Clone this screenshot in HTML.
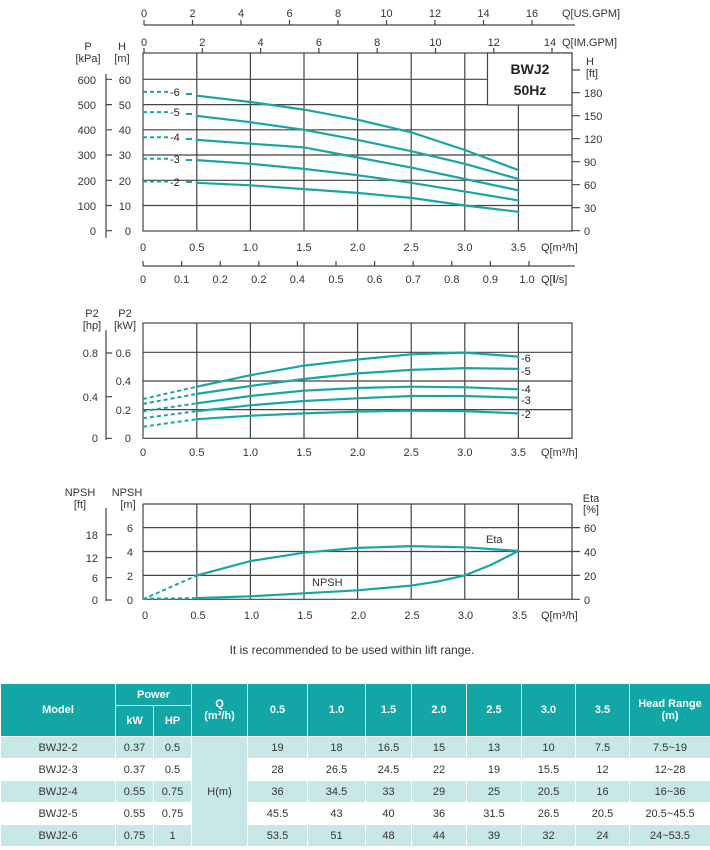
<!DOCTYPE html>
<html><head><meta charset="utf-8"><style>
body{margin:0;background:#fff;width:710px;height:850px;overflow:hidden;font-family:"Liberation Sans",sans-serif;}
svg{position:absolute;left:0;top:0}
table{position:absolute;left:0;top:683px;border-collapse:collapse;width:710px;font-size:11px;color:#333;table-layout:fixed}
td,th{border:1px solid #fff;text-align:center;padding:0;height:21px}
th{background:#12a6a7;color:#fff;font-weight:bold;font-size:11px}
tr.a td{background:#c8e8e8}
td.q{background:#c8e8e8}
</style></head><body>
<svg width="710" height="680" font-family="Liberation Sans, sans-serif" font-size="11" fill="#333">
<g stroke="#444" stroke-width="1.2" fill="none">
<rect x="143" y="53" width="429" height="178"/>
<path d="M196.8 53V231M250.4 53V231M304 53V231M357.6 53V231M411.2 53V231M464.8 53V231M518.4 53V231"/>
<path d="M143 79.3H572M143 104.6H572M143 129.8H572M143 155H572M143 180.3H572M143 205.5H572"/>
<path d="M144 25H575M144 20V25M192.5 20V25M241 20V25M289.5 20V25M338 20V25M386.5 20V25M435 20V25M483.5 20V25M532 20V25"/>
<path d="M144 53V48M202.3 53V48M260.6 53V48M318.9 53V48M377.2 53V48M435.5 53V48M493.8 53V48M552 53V48"/>
<path d="M106 74V238M106 79.3H112M106 104.6H112M106 129.8H112M106 155H112M106 180.3H112M106 205.5H112M106 230.7H112"/>
<path d="M572 70H580M572 92.7H580M572 115.7H580M572 138.7H580M572 161.7H580M572 184.7H580M572 207.7H580M572 230.7H580"/>
<path d="M143 266H575M143 266V261M181.6 266V261M220.2 266V261M258.8 266V261M297.4 266V261M336 266V261M374.6 266V261M413.2 266V261M451.8 266V261M490.4 266V261M529 266V261"/>
<rect x="143" y="323" width="429" height="115.3"/>
<path d="M196.8 323V438M250.4 323V438M304 323V438M357.6 323V438M411.2 323V438M464.8 323V438M518.4 323V438"/>
<path d="M143 352.3H572M143 381H572M143 409.6H572"/>
<path d="M106 330V440M106 353H112M106 396.7H112M106 438.3H112"/>
<path d="M143 504V599.3H572V504M143 504H572"/>
<path d="M196.8 504V599M250.4 504V599M304 504V599M357.6 504V599M411.2 504V599M464.8 504V599M518.4 504V599"/>
<path d="M143 527.6H572M143 551.5H572M143 575.4H572"/>
<path d="M572 527.6H580M572 551.5H580M572 575.4H580M572 599.3H580"/>
<path d="M106 508V601M106 534.7H112M106 557.7H112M106 577.7H112M106 600H112"/>
</g>
<rect x="487.5" y="53" width="84.5" height="52" fill="#fff" stroke="#444" stroke-width="1.2"/>
<text x="530" y="74" text-anchor="middle" font-weight="bold" font-size="14" fill="#222">BWJ2</text>
<text x="530" y="95" text-anchor="middle" font-weight="bold" font-size="14" fill="#222">50Hz</text>
<g stroke="#1aa5a5" stroke-width="2.2" fill="none" stroke-linejoin="round" stroke-linecap="round">
<polyline points="196.8,95.7 250.4,102 304,109.6 357.6,119.7 411.2,132.3 464.8,150 518.4,170.1"/>
<polyline points="196.8,115.9 250.4,122.2 304,129.8 357.6,139.9 411.2,151.2 464.8,163.8 518.4,179"/>
<polyline points="196.8,139.9 250.4,143.7 304,147.4 357.6,157.5 411.2,167.6 464.8,179 518.4,190.3"/>
<polyline points="196.8,160.1 250.4,163.8 304,168.9 357.6,175.2 411.2,182.8 464.8,191.6 518.4,200.4"/>
<polyline points="196.8,182.8 250.4,185.3 304,189.1 357.6,192.9 411.2,197.9 464.8,205.5 518.4,211.8"/>
<polyline points="196.8,386.7 250.4,375.2 304,365.6 357.6,359.5 411.2,354.3 464.8,352.6 518.4,356.6"/>
<polyline points="196.8,393.9 250.4,386 304,379 357.6,373.4 411.2,369.9 464.8,368.1 518.4,368.9"/>
<polyline points="196.8,403.3 250.4,396 304,390.6 357.6,388 411.2,386.7 464.8,387.3 518.4,389.3"/>
<polyline points="196.8,411.1 250.4,405.3 304,401 357.6,398.3 411.2,396 464.8,396 518.4,397.6"/>
<polyline points="196.8,419.2 250.4,415.7 304,413.4 357.6,411.6 411.2,410.6 464.8,411.1 518.4,413.4"/>
<polyline points="196.8,575.4 250.4,561.1 304,552.7 357.6,547.9 411.2,546.1 464.8,547.3 518.4,550.9"/>
<polyline points="196.8,598.1 250.4,596.3 304,593.3 357.6,590.3 411.2,585.6 438,581.4 464.8,575.4 491.6,564.6 518.4,550.9"/>
</g>
<g stroke="#1aa5a5" stroke-width="2" fill="none" stroke-dasharray="4,3">
<path d="M143 91.9H168M143 112.1H168M143 137.3H168M143 158.8H168M143 181.5H168"/>
<path d="M186 94H192M186 114H192M186 139H192M186 160H192M186 182H192" stroke-dasharray="none"/>
<path d="M143 399L196.8 386.7M143 403.9L196.8 393.9M143 411.1L196.8 403.3M143 418.2L196.8 411.1M143 426.7L196.8 419.2"/>
<path d="M143 599.3L196.8 575.4M143 598.7L196.8 598.1"/>
</g>
<g fill="#222" font-size="11">
<text x="170" y="96">-6</text><text x="170" y="116">-5</text><text x="170" y="141">-4</text><text x="170" y="163">-3</text><text x="170" y="186">-2</text>
<text x="521" y="362">-6</text><text x="521" y="375">-5</text><text x="521" y="393">-4</text><text x="521" y="404">-3</text><text x="521" y="418">-2</text>
</g>
<g text-anchor="middle">
<text x="144" y="17">0</text><text x="192.5" y="17">2</text><text x="241" y="17">4</text><text x="289.5" y="17">6</text><text x="338" y="17">8</text><text x="386.5" y="17">10</text><text x="435" y="17">12</text><text x="483.5" y="17">14</text><text x="532" y="17">16</text>
<text x="144" y="46">0</text><text x="202.3" y="46">2</text><text x="260.6" y="46">4</text><text x="318.9" y="46">6</text><text x="377.2" y="46">8</text><text x="435.5" y="46">10</text><text x="493.8" y="46">12</text><text x="550" y="46">14</text>
<text x="88" y="50">P</text><text x="88" y="62">[kPa]</text><text x="122" y="50">H</text><text x="122" y="62">[m]</text>
<text x="590" y="65">H</text><text x="592" y="77">[ft]</text>
</g>
<text x="562" y="17">Q[US.GPM]</text><text x="562" y="46">Q[IM.GPM]</text>
<g text-anchor="end">
<text x="96" y="84">600</text><text x="96" y="109">500</text><text x="96" y="134">400</text><text x="96" y="159">300</text><text x="96" y="185">200</text><text x="96" y="210">100</text><text x="96" y="235">0</text>
<text x="131" y="84">60</text><text x="131" y="109">50</text><text x="131" y="134">40</text><text x="131" y="159">30</text><text x="131" y="185">20</text><text x="131" y="210">10</text><text x="131" y="235">0</text>
</g>
<g>
<text x="584" y="97">180</text><text x="584" y="120">150</text><text x="584" y="143">120</text><text x="584" y="166">90</text><text x="584" y="189">60</text><text x="584" y="212">30</text><text x="584" y="235">0</text>
</g>
<g text-anchor="middle">
<text x="143" y="251">0</text><text x="196.8" y="251">0.5</text><text x="250.4" y="251">1.0</text><text x="304" y="251">1.5</text><text x="357.6" y="251">2.0</text><text x="411.2" y="251">2.5</text><text x="464.8" y="251">3.0</text><text x="518.4" y="251">3.5</text>
<text x="143" y="283">0</text><text x="181.6" y="283">0.1</text><text x="220.2" y="283">0.2</text><text x="258.8" y="283">0.2</text><text x="297.4" y="283">0.4</text><text x="336" y="283">0.5</text><text x="374.6" y="283">0.6</text><text x="413.2" y="283">0.7</text><text x="451.8" y="283">0.8</text><text x="490.4" y="283">0.9</text><text x="527" y="283">1.0</text>
<text x="143" y="456">0</text><text x="196.8" y="456">0.5</text><text x="250.4" y="456">1.0</text><text x="304" y="456">1.5</text><text x="357.6" y="456">2.0</text><text x="411.2" y="456">2.5</text><text x="464.8" y="456">3.0</text><text x="518.4" y="456">3.5</text>
<text x="145" y="619">0</text><text x="198" y="619">0.5</text><text x="251.5" y="619">1.0</text><text x="305" y="619">1.5</text><text x="358.5" y="619">2.0</text><text x="412" y="619">2.5</text><text x="465.5" y="619">3.0</text><text x="519.5" y="619">3.5</text>
<text x="92" y="317">P2</text><text x="92" y="329">[hp]</text><text x="125" y="317">P2</text><text x="125" y="329">[kW]</text>
<text x="80" y="496">NPSH</text><text x="80" y="508">[ft]</text><text x="127" y="496">NPSH</text><text x="128" y="508">[m]</text>
<text x="591" y="502">Eta</text><text x="591" y="513">[%]</text>
</g>
<text x="541" y="251">Q[m³/h]</text><text x="541" y="283">Q[<tspan font-weight="bold">l</tspan>/s]</text>
<text x="541" y="456">Q[m³/h]</text><text x="541" y="619">Q[m³/h]</text>
<g text-anchor="end">
<text x="98" y="357">0.8</text><text x="98" y="401">0.4</text><text x="98" y="442">0</text>
<text x="131" y="357">0.6</text><text x="131" y="385">0.4</text><text x="131" y="414">0.2</text><text x="131" y="442">0</text>
<text x="98" y="539">18</text><text x="98" y="562">12</text><text x="98" y="582">6</text><text x="98" y="604">0</text>
<text x="133" y="532">6</text><text x="133" y="556">4</text><text x="133" y="580">2</text><text x="133" y="604">0</text>
</g>
<text x="584" y="532">60</text><text x="584" y="556">40</text><text x="584" y="580">20</text><text x="584" y="604">0</text>
<text x="486" y="543">Eta</text><text x="312" y="586">NPSH</text>
<text x="352" y="654" text-anchor="middle" font-size="12">It is recommended to be used within lift range.</text>
</svg>
<table>
<colgroup><col style="width:115px"><col style="width:38px"><col style="width:38px"><col style="width:56px"><col style="width:60px"><col style="width:58px"><col style="width:46px"><col style="width:55px"><col style="width:55px"><col style="width:54px"><col style="width:54px"><col style="width:81px"></colgroup>
<tr><th rowspan="2" style="height:52px">Model</th><th colspan="2" style="height:21px">Power</th><th rowspan="2">Q<br>(m³/h)</th><th rowspan="2">0.5</th><th rowspan="2">1.0</th><th rowspan="2">1.5</th><th rowspan="2">2.0</th><th rowspan="2">2.5</th><th rowspan="2">3.0</th><th rowspan="2">3.5</th><th rowspan="2">Head Range<br>(m)</th></tr>
<tr><th style="height:29px">kW</th><th>HP</th></tr>
<tr class="a"><td>BWJ2-2</td><td>0.37</td><td>0.5</td><td class="q" rowspan="5">H(m)</td><td>19</td><td>18</td><td>16.5</td><td>15</td><td>13</td><td>10</td><td>7.5</td><td>7.5~19</td></tr>
<tr><td>BWJ2-3</td><td>0.37</td><td>0.5</td><td>28</td><td>26.5</td><td>24.5</td><td>22</td><td>19</td><td>15.5</td><td>12</td><td>12~28</td></tr>
<tr class="a"><td>BWJ2-4</td><td>0.55</td><td>0.75</td><td>36</td><td>34.5</td><td>33</td><td>29</td><td>25</td><td>20.5</td><td>16</td><td>16~36</td></tr>
<tr><td>BWJ2-5</td><td>0.55</td><td>0.75</td><td>45.5</td><td>43</td><td>40</td><td>36</td><td>31.5</td><td>26.5</td><td>20.5</td><td>20.5~45.5</td></tr>
<tr class="a"><td>BWJ2-6</td><td>0.75</td><td>1</td><td>53.5</td><td>51</td><td>48</td><td>44</td><td>39</td><td>32</td><td>24</td><td>24~53.5</td></tr>
</table>
</body></html>
